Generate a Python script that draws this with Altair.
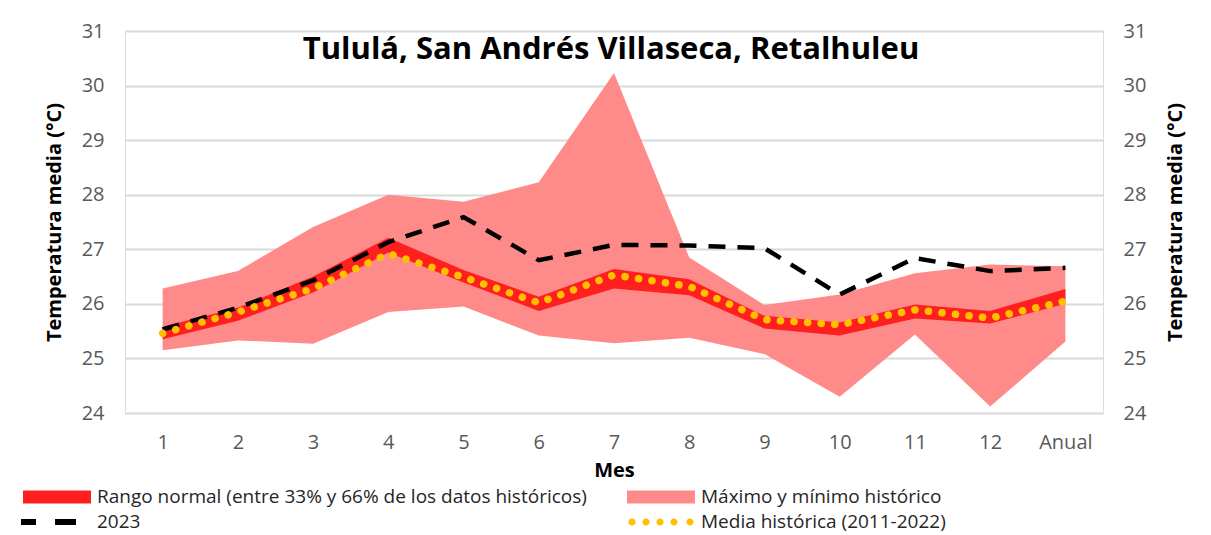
import altair as alt
import pandas as pd

meses = ["1", "2", "3", "4", "5", "6", "7", "8", "9", "10", "11", "12", "Anual"]
max_hist = [26.28, 26.60, 27.41, 28.00, 27.87, 28.23, 30.23, 26.85, 25.98, 26.17, 26.56, 26.72, 26.69]
min_hist = [25.15, 25.33, 25.27, 25.85, 25.95, 25.42, 25.28, 25.38, 25.08, 24.30, 25.44, 24.12, 25.31]
normal_hi = [25.58, 25.93, 26.50, 27.21, 26.62, 26.13, 26.64, 26.45, 25.78, 25.66, 25.99, 25.87, 26.27]
normal_lo = [25.35, 25.69, 26.21, 26.94, 26.39, 25.87, 26.28, 26.16, 25.55, 25.42, 25.73, 25.64, 26.00]
media = [25.46, 25.85, 26.28, 26.92, 26.49, 26.02, 26.53, 26.32, 25.71, 25.62, 25.89, 25.74, 26.05]
y2023 = [25.53, 25.93, 26.43, 27.13, 27.59, 26.80, 27.08, 27.07, 27.02, 26.17, 26.84, 26.60, 26.66]

titulo = "Tululá, San Andrés Villaseca, Retalhuleu"
y_title = "Temperatura media (°C)"
x_title = "Mes"
y_ticks = [24, 25, 26, 27, 28, 29, 30, 31]

leg_labels = [
    "Rango normal (entre 33% y 66% de los datos históricos)",
    "Máximo y mínimo histórico",
    "2023",
    "Media histórica (2011-2022)",
]

RED = "#ff1f1f"
PINK = "#ff8a8a"
GOLD = "#ffc000"
FONT = "Open Sans"

# legend symbol shapes: unit = sqrt(symbolSize)/2 = 10 px
rect_path = "M-3.5,-0.65H3.3V0.65H-3.5Z"
dash_path = "M-3.7,-0.3H-2.2V0.3H-3.7Z M-0.3,-0.3H1.8V0.3H-0.3Z"
r = 0.36
def circ(cx):
    return f"M{cx - r:.2f},0 a{r},{r} 0 1,0 {2*r:.2f},0 a{r},{r} 0 1,0 {-2*r:.2f},0 "
dots_path = "".join(circ(c) for c in [-3.0, -1.6, -0.2, 1.2, 2.8])
leg_shapes = [rect_path, rect_path, dash_path, dots_path]
leg_colors = [RED, PINK, "#000000", GOLD]

df = pd.DataFrame({
    "mes": meses,
    "max_hist": max_hist,
    "min_hist": min_hist,
    "normal_hi": normal_hi,
    "normal_lo": normal_lo,
    "media": media,
    "y2023": y2023,
})
df_leg = pd.DataFrame({"serie": leg_labels})

W, H = 978, 382

x_enc = alt.X(
    "mes:N", sort=meses,
    scale=alt.Scale(type="point", padding=0.5),
    axis=alt.Axis(title=x_title, labelAngle=0, labelPadding=19, titlePadding=8,
                  titleFontSize=20, titleFontWeight="bold", titleColor="#000000",
                  labelFontSize=20, labelColor="#595959", labelFont=FONT, titleFont=FONT,
                  ticks=False, domain=False, grid=False),
)
yscale = alt.Scale(domain=[24, 31], nice=False, zero=False)
yaxis_left = alt.Axis(title=y_title, values=y_ticks, grid=True, gridColor="#d9d9d9", gridWidth=2,
                      domain=False, ticks=False, labelPadding=21, titlePadding=17,
                      labelFontSize=20, labelColor="#595959", labelFont=FONT,
                      titleFont=FONT, titleFontSize=20, titleFontWeight="bold", titleColor="#000000")
yaxis_right = alt.Axis(title=y_title, orient="right", values=y_ticks, grid=False,
                       domain=False, ticks=False, labelPadding=20, titlePadding=40, titleAngle=270,
                       labelFontSize=20, labelColor="#595959", labelFont=FONT,
                       titleFont=FONT, titleFontSize=20, titleFontWeight="bold", titleColor="#000000")

base = alt.Chart(df)

area_mm = base.mark_area(color=PINK, opacity=1).encode(
    x=x_enc, y=alt.Y("min_hist:Q", scale=yscale, axis=yaxis_left), y2="max_hist:Q")
area_norm = base.mark_area(color=RED, opacity=1).encode(
    x=x_enc, y=alt.Y("normal_lo:Q", scale=yscale, axis=yaxis_left), y2="normal_hi:Q")
line_2023 = base.mark_line(color="#000000", strokeWidth=4.5, strokeDash=[17, 12]).encode(
    x=x_enc, y=alt.Y("y2023:Q", scale=yscale, axis=yaxis_left))
line_media = base.mark_line(color=GOLD, strokeWidth=7.5, strokeDash=[0.1, 13.5], strokeCap="round").encode(
    x=x_enc, y=alt.Y("media:Q", scale=yscale, axis=yaxis_left))

title_text = alt.Chart(pd.DataFrame({"t": [titulo]})).mark_text(
    font=FONT, fontSize=31, fontWeight="bold", color="#000000", align="center", baseline="alphabetic"
).encode(text="t:N", x=alt.value(486), y=alt.value(28))

legend_obj = alt.Legend(
    title=None, orient="none", legendX=-77, legendY=456, direction="horizontal", columns=2,
    symbolSize=400, symbolStrokeWidth=0, labelFont=FONT, labelFontSize=19, labelColor="#262626",
    labelLimit=800, labelOffset=29, columnPadding=40, rowPadding=5,
)
leg = alt.Chart(df_leg).transform_filter("false").mark_point(filled=True, opacity=1, strokeWidth=0).encode(
    shape=alt.Shape("serie:N", scale=alt.Scale(domain=leg_labels, range=leg_shapes), legend=legend_obj),
    fill=alt.Fill("serie:N", scale=alt.Scale(domain=leg_labels, range=leg_colors), legend=legend_obj),
)

left = alt.layer(area_mm, area_norm, line_2023, line_media, title_text, leg)
right = base.mark_line(opacity=0).encode(
    x=x_enc, y=alt.Y("media:Q", scale=yscale, axis=yaxis_right))

chart = alt.layer(left, right).resolve_scale(y="independent").properties(
    width=W, height=H,
    autosize=alt.AutoSizeParams(type="none"),
    padding={"left": 117, "top": 23, "right": 100, "bottom": 122},
).configure_view(stroke=None).configure(background="white")

chart.save("out.html", embed_options={"renderer": "svg", "actions": False})
